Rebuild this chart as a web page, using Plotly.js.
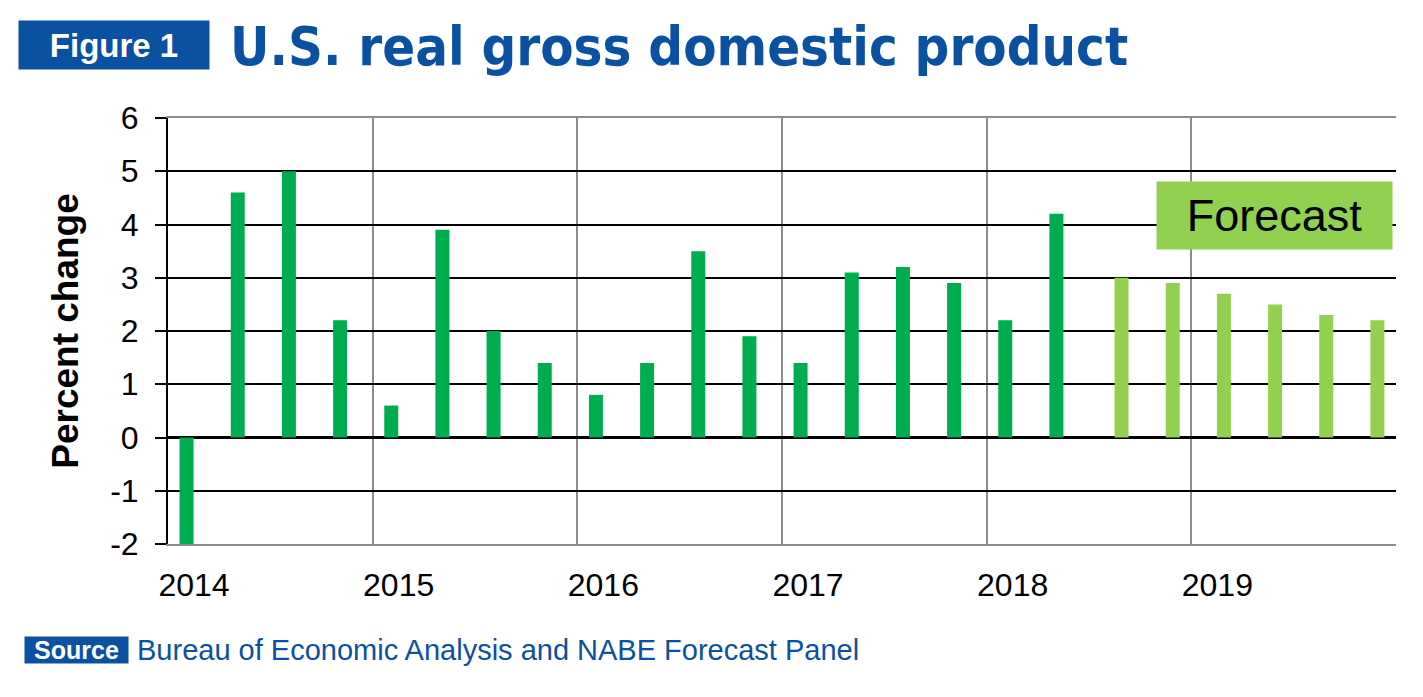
<!DOCTYPE html>
<html>
<head>
<meta charset="utf-8">
<script src="https://cdn.plot.ly/plotly-3.0.1.min.js"></script>
<style>
  html, body { margin: 0; padding: 0; background: #ffffff; }
  #chart { width: 1423px; height: 697px; }
</style>
</head>
<body>
<div id="chart"></div>
<script>
// ---- Data ----
const quarters = [
  '2014 Q1','2014 Q2','2014 Q3','2014 Q4',
  '2015 Q1','2015 Q2','2015 Q3','2015 Q4',
  '2016 Q1','2016 Q2','2016 Q3','2016 Q4',
  '2017 Q1','2017 Q2','2017 Q3','2017 Q4',
  '2018 Q1','2018 Q2','2018 Q3','2018 Q4',
  '2019 Q1','2019 Q2','2019 Q3','2019 Q4'
];
// Actual quarterly percent change (annualized)
const actual = [
  -2.1, 4.6, 5.0, 2.2,
  0.6, 3.9, 2.0, 1.4,
  0.8, 1.4, 3.5, 1.9,
  1.4, 3.1, 3.2, 2.9,
  2.2, 4.2, null, null,
  null, null, null, null
];
// NABE forecast panel
const forecast = [
  null, null, null, null,
  null, null, null, null,
  null, null, null, null,
  null, null, null, null,
  null, null, 3.0, 2.9,
  2.7, 2.5, 2.3, 2.2
];
const yearLabels = ['2014', '2015', '2016', '2017', '2018', '2019'];
const yTickValues = [-2, -1, 0, 1, 2, 3, 4, 5, 6];
const yTickLabels = ['-2', '-1', '0', '1', '2', '3', '4', '5', '6'];

// ---- Derived positions ----
const xIdx = quarters.map((q, i) => i);
const yearStarts = yearLabels.map((y, i) => i * 4 - 0.5);
const boundaries = yearStarts.concat([quarters.length - 0.5]);

const BLUE = '#0a51a1';
const DARK_GREEN = '#00ad4e';
const LIGHT_GREEN = '#92d050';
const GRID_GRAY = '#8c8c8c';

const traces = [
  {
    type: 'bar', name: 'Actual', x: xIdx, y: actual, text: quarters,
    textposition: 'none',
    hovertemplate: '%{text}: %{y}%<extra></extra>',
    marker: { color: DARK_GREEN, line: { width: 0 } }
  },
  {
    type: 'bar', name: 'Forecast', x: xIdx, y: forecast, text: quarters,
    textposition: 'none',
    hovertemplate: '%{text}: %{y}%<extra></extra>',
    marker: { color: LIGHT_GREEN, line: { width: 0 } }
  }
];

const L = 168, R = 1396, T = 118, B = 544;
const px = X => (X - L) / (R - L);
const py = Y => (B - Y) / (B - T);

const layout = {
  width: 1423, height: 697,
  margin: { l: L, r: 1423 - R, t: T, b: 697 - B, pad: 0 },
  paper_bgcolor: '#ffffff', plot_bgcolor: '#ffffff',
  showlegend: false,
  barmode: 'group', bargap: 0.453, bargroupgap: 0,
  font: { family: 'Liberation Sans, Arial, sans-serif', color: '#000000' },
  title: {
    text: 'U.S. real gross domestic product',
    font: { family: '"Liberation Sans Narrow", "DejaVu Sans Condensed", "Arial Narrow", sans-serif', size: 54, color: BLUE, weight: 'bold' },
    xref: 'container', yref: 'container',
    x: 230 / 1423, xanchor: 'left',
    y: 1 - 46 / 697, yanchor: 'middle'
  },
  xaxis: {
    type: 'linear',
    range: [-0.5, quarters.length - 0.5],
    tickmode: 'array', tickvals: boundaries, ticktext: yearLabels.concat(['']),
    ticklabelshift: 26, ticklabelstandoff: 12,
    ticks: '', showgrid: true, gridcolor: GRID_GRAY, gridwidth: 2,
    showline: true, linecolor: GRID_GRAY, linewidth: 2, mirror: true,
    zeroline: false,
    tickfont: { size: 32, color: '#000000', family: 'Liberation Sans, Arial, sans-serif' },
    fixedrange: true
  },
  xaxis2: {
    overlaying: 'x', anchor: 'free', position: 0.25,
    range: [-0.5, quarters.length - 0.5],
    tickmode: 'array', tickvals: boundaries,
    ticks: 'outside', ticklen: 10, tickwidth: 2, tickcolor: '#000000',
    showticklabels: false, showgrid: false, showline: false, zeroline: false,
    fixedrange: true
  },
  yaxis: {
    range: [-2, 6],
    tickmode: 'array', tickvals: yTickValues, ticktext: yTickLabels,
    showgrid: true, gridcolor: '#000000', gridwidth: 2,
    showline: true, linecolor: '#000000', linewidth: 2,
    zeroline: true, zerolinecolor: '#000000', zerolinewidth: 2.5,
    ticks: 'outside', ticklen: 11, tickwidth: 2, tickcolor: '#000000',
    ticklabelstandoff: 10,
    tickfont: { size: 32, color: '#000000', family: 'Liberation Sans, Arial, sans-serif' },
    title: { text: 'Percent change', standoff: 20,
      font: { size: 37, color: '#000000', family: 'Liberation Sans, Arial, sans-serif', weight: 'bold' } },
    fixedrange: true
  },
  annotations: [
    {
      text: '<b>Figure 1</b>', xref: 'paper', yref: 'paper',
      x: px(114), y: py(45), xanchor: 'center', yanchor: 'middle',
      width: 190, height: 48, borderpad: 0, bgcolor: BLUE, showarrow: false,
      font: { size: 33, color: '#ffffff', family: 'Liberation Sans, Arial, sans-serif' }
    },
    {
      text: '<b>Source</b>', xref: 'paper', yref: 'paper',
      x: px(76.5), y: py(650), xanchor: 'center', yanchor: 'middle',
      width: 103, height: 26, borderpad: 0, bgcolor: BLUE, showarrow: false,
      font: { size: 25, color: '#ffffff', family: 'Liberation Sans, Arial, sans-serif' }
    },
    {
      text: 'Bureau of Economic Analysis and NABE Forecast Panel', xref: 'paper', yref: 'paper',
      x: px(135), y: py(650), xanchor: 'left', yanchor: 'middle', showarrow: false,
      font: { size: 29, color: BLUE, family: 'Liberation Sans, Arial, sans-serif' }
    },
    {
      text: 'Forecast', xref: 'paper', yref: 'paper',
      x: px(1274.5), y: py(215.5), xanchor: 'center', yanchor: 'middle',
      width: 235, height: 67, borderpad: 0, bgcolor: LIGHT_GREEN, showarrow: false,
      font: { size: 45, color: '#000000', family: 'Liberation Sans, Arial, sans-serif' }
    }
  ]
};

Plotly.newPlot('chart', traces, layout, { displayModeBar: false, responsive: false, staticPlot: true });
</script>
</body>
</html>
